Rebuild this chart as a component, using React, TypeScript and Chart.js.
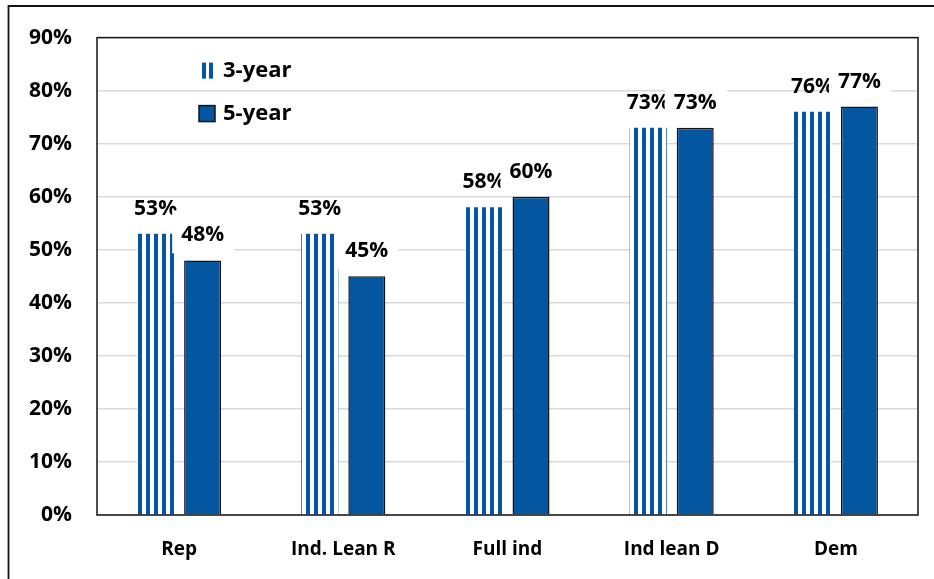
import React, { useEffect, useRef } from "react";
import { Chart, registerables } from "chart.js";
Chart.register(...registerables);

const categories = ["Rep", "Ind. Lean R", "Full ind", "Ind lean D", "Dem"];
const threeYear = [53, 53, 58, 73, 76];
const fiveYear = [48, 45, 60, 73, 77];
const seriesNames = ["3-year", "5-year"];
const yMin = 0;
const yMax = 90;
const yStep = 10;

const BLUE = "#03569f";
const DARK = "#141414";
const FONT = "'Open Sans', Lato, sans-serif";

function makeStripes(): CanvasPattern | string {
  const c = document.createElement("canvas");
  c.width = 8;
  c.height = 8;
  const g = c.getContext("2d");
  if (!g) return BLUE;
  g.fillStyle = "#ffffff";
  g.fillRect(0, 0, 8, 8);
  g.fillStyle = BLUE;
  g.fillRect(2, 0, 4, 8);
  return g.createPattern(c, "repeat") || BLUE;
}

const labelPlugin = {
  id: "valueLabels",
  afterDatasetsDraw(chart: any) {
    const ctx = chart.ctx;
    ctx.save();
    ctx.font = `bold 21px ${FONT}`;
    ctx.textAlign = "center";
    ctx.textBaseline = "middle";
    [0, 1].forEach((di) => {
      const meta = chart.getDatasetMeta(di);
      meta.data.forEach((el: any, i: number) => {
        const v = chart.data.datasets[di].data[i];
        const txt = `${v}%`;
        const x = el.x;
        const y = el.y - 25;
        if (di === 1) {
          const w = ctx.measureText(txt).width;
          ctx.fillStyle = "#ffffff";
          ctx.fillRect(x - w / 2 - 9, y - 25, w + 19, 43);
        }
        ctx.fillStyle = "#000000";
        ctx.fillText(txt, x, y);
      });
    });
    ctx.restore();
  },
  afterDraw(chart: any) {
    const ctx = chart.ctx;
    const a = chart.chartArea;
    ctx.save();
    ctx.strokeStyle = DARK;
    ctx.lineWidth = 1.5;
    ctx.strokeRect(a.left, a.top, a.right - a.left, a.bottom - a.top);
    ctx.lineWidth = 1.8;
    ctx.beginPath();
    ctx.moveTo(8.5, chart.height);
    ctx.lineTo(8.5, 6);
    ctx.lineTo(chart.width, 6);
    ctx.stroke();
    const lx = a.left + 105;
    ctx.fillStyle = BLUE;
    ctx.fillRect(lx, a.top + 25, 4, 16);
    ctx.fillRect(lx + 7, a.top + 25, 4, 16);
    ctx.fillRect(lx - 3, a.top + 68, 16, 16);
    ctx.strokeStyle = DARK;
    ctx.lineWidth = 1.5;
    ctx.strokeRect(lx - 3, a.top + 68, 16, 16);
    ctx.fillStyle = "#000000";
    ctx.font = `bold 22px ${FONT}`;
    ctx.textAlign = "left";
    ctx.textBaseline = "middle";
    ctx.fillText(seriesNames[0], lx + 21, a.top + 33);
    ctx.fillText(seriesNames[1], lx + 21, a.top + 76);
    ctx.restore();
  },
};

export default function App() {
  const ref = useRef<HTMLCanvasElement | null>(null);
  useEffect(() => {
    if (!ref.current) return;
    const stripes = makeStripes();
    const chart = new Chart(ref.current, {
      type: "bar",
      data: {
        labels: categories,
        datasets: [
          {
            label: seriesNames[0],
            data: threeYear,
            backgroundColor: stripes as any,
            borderWidth: 0,
            categoryPercentage: 0.573,
            barPercentage: 0.787,
          },
          {
            label: seriesNames[1],
            data: fiveYear,
            backgroundColor: BLUE,
            borderColor: DARK,
            borderWidth: 1.5,
            categoryPercentage: 0.573,
            barPercentage: 0.787,
          },
        ],
      },
      options: {
        responsive: false,
        animation: false,
        layout: { padding: { left: 0, top: 36, right: 16, bottom: 0 } },
        plugins: { legend: { display: false }, tooltip: { enabled: false } },
        scales: {
          x: {
            grid: { display: false, drawTicks: false },
            border: { display: false },
            ticks: {
              font: { family: FONT, size: 19, weight: "bold" },
              color: "#000",
              padding: 23,
            },
            afterFit: (s: any) => {
              s.height = 64;
            },
          },
          y: {
            min: yMin,
            max: yMax,
            ticks: {
              stepSize: yStep,
              callback: (v: any) => `${v}%`,
              font: { family: FONT, size: 21, weight: "bold" },
              color: "#000",
              padding: 25,
            },
            grid: { color: "#d9d9d9", drawTicks: false, lineWidth: 1.5 },
            border: { display: false },
            afterFit: (s: any) => {
              s.width = 97;
            },
          },
        },
      } as any,
      plugins: [labelPlugin],
    });
    return () => chart.destroy();
  }, []);
  return (
    <div style={{ position: "absolute", left: 0, top: 0, width: 934, height: 579, background: "#fff" }}>
      <canvas ref={ref} width={934} height={579} style={{ display: "block" }} />
    </div>
  );
}
